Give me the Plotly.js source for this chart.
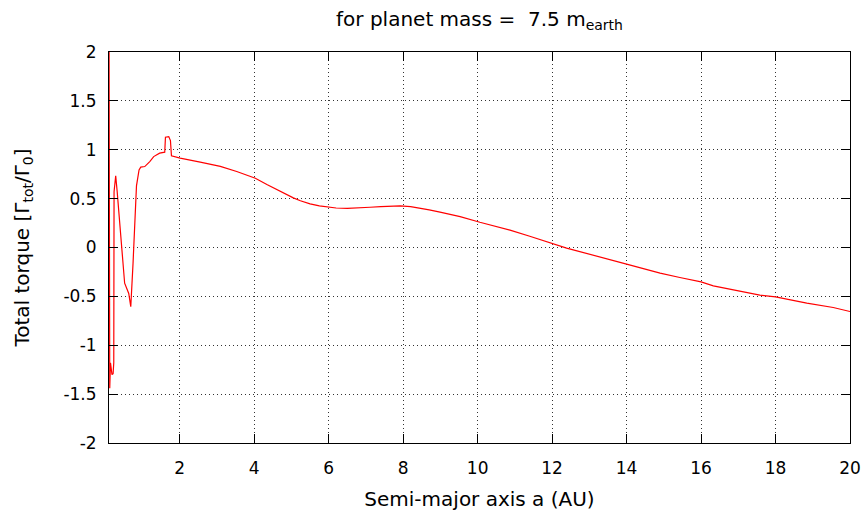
<!DOCTYPE html>
<html>
<head>
<meta charset="utf-8">
<script src="https://cdn.plot.ly/plotly-3.0.1.min.js"></script>
<style>html,body{margin:0;padding:0;background:#fff;}#chart{width:868px;height:515px;}</style>
</head>
<body>
<div id="chart"></div>
<script>
// Semi-major axis (AU)
const semiMajorAxis = [0.1, 0.12, 0.14, 0.18, 0.21, 0.228, 0.236, 0.28, 0.32, 0.41, 0.52, 0.63, 0.685, 0.746, 0.81, 0.838, 0.907, 0.953, 1.06, 1.195, 1.30, 1.46, 1.597, 1.616, 1.705, 1.75, 1.777, 2.01, 2.55, 3.09, 3.53, 4.03, 4.34, 4.70, 5.05, 5.24, 5.50, 5.75, 5.95, 6.2, 6.5, 6.8, 7.11, 7.4, 7.92, 8.2, 8.46, 8.7, 8.99, 9.25, 9.53, 10.06, 10.5, 10.87, 11.4, 12.0, 12.39, 14.0, 14.9, 15.43, 16.0, 16.33, 17.05, 17.58, 18.0, 18.84, 19.55, 20.0];
// Total torque (Gamma_tot / Gamma_0)
const totalTorque = [2.5, -1.44, -1.18, -1.30, -1.29, -1.18, 0.57, 0.733, 0.57, 0.18, -0.365, -0.47, -0.605, -0.16, 0.35, 0.63, 0.794, 0.822, 0.828, 0.879, 0.93, 0.965, 0.975, 1.129, 1.135, 1.094, 0.938, 0.914, 0.873, 0.83, 0.777, 0.709, 0.645, 0.572, 0.508, 0.478, 0.446, 0.426, 0.414, 0.404, 0.40, 0.403, 0.412, 0.418, 0.425, 0.418, 0.402, 0.385, 0.361, 0.34, 0.316, 0.258, 0.215, 0.178, 0.115, 0.045, -0.006, -0.17, -0.262, -0.307, -0.351, -0.392, -0.443, -0.487, -0.505, -0.569, -0.614, -0.655];
// Tick labels
const xTickVals = [2, 4, 6, 8, 10, 12, 14, 16, 18, 20];
const xTickText = ["2", "4", "6", "8", "10", "12", "14", "16", "18", "20"];
const yTickVals = [-2, -1.5, -1, -0.5, 0, 0.5, 1, 1.5, 2];
const yTickText = ["-2", "-1.5", "-1", "-0.5", "0", "0.5", "1", "1.5", "2"];

const FONT = "DejaVu Sans, sans-serif";
const FS = 17;
const TFS = 20;

const trace = {
  x: semiMajorAxis, y: totalTorque, type: "scatter", mode: "lines",
  line: {color: "#ff0000", width: 1.2, shape: "linear"}, hoverinfo: "skip", showlegend: false
};

const axisCommon = {
  showline: true, linecolor: "#000", linewidth: 1, mirror: "ticks",
  ticks: "inside", ticklen: 9, tickcolor: "#000", tickwidth: 1,
  showgrid: true, gridcolor: "#333", gridwidth: 1, griddash: "1px,3px",
  zeroline: false, tickfont: {family: FONT, size: FS, color: "#000"},
  tickmode: "array", automargin: false
};

const layout = {
  width: 868, height: 515,
  margin: {l: 109, r: 18, t: 52, b: 72, pad: 0},
  paper_bgcolor: "#fff", plot_bgcolor: "#fff",
  font: {family: FONT, size: FS, color: "#000"},
  title: {text: "for planet mass =  7.5 m<sub>earth</sub>", font: {family: FONT, size: TFS, color: "#000"},
          x: 0.5, xref: "paper", xanchor: "center", y: 1 - 19/515, yref: "container", yanchor: "middle"},
  xaxis: Object.assign({}, axisCommon, {
    range: [0.1, 20], tickvals: xTickVals, ticktext: xTickText, ticklabelstandoff: 10,
    title: {text: "Semi-major axis a (AU)", font: {family: FONT, size: TFS, color: "#000"}, standoff: 14}
  }),
  yaxis: Object.assign({}, axisCommon, {
    range: [-2, 2], tickvals: yTickVals, ticktext: yTickText, ticklabelstandoff: 8,
    title: {text: "Total torque [Γ<sub>tot</sub>/Γ<sub>0</sub>]", font: {family: FONT, size: TFS, color: "#000"}, standoff: 28}
  })
};

Plotly.newPlot("chart", [trace], layout, {displayModeBar: false, staticPlot: true});
</script>
</body>
</html>
